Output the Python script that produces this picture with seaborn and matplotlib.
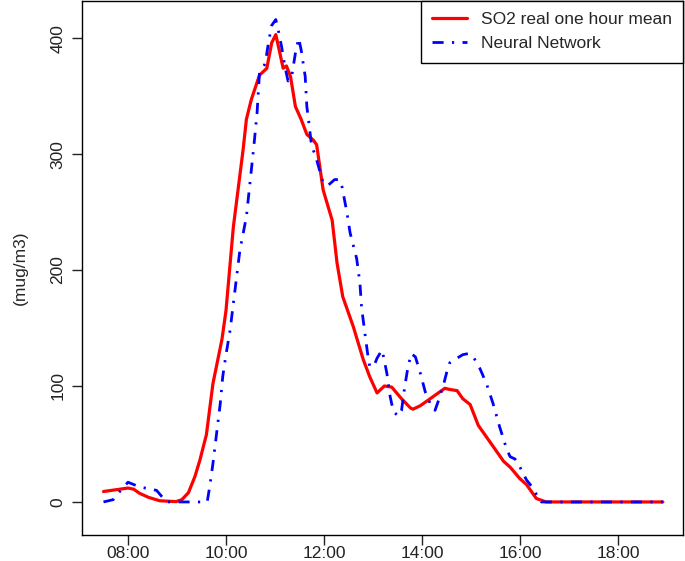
import pandas as pd
import matplotlib
matplotlib.use("Agg")
import matplotlib.pyplot as plt
import matplotlib.dates as mdates
import seaborn as sns

# --- data ---
real_times = [
    "07:30", "08:00", "08:07", "08:14", "08:25", "08:39", "08:59", "09:06",
    "09:14", "09:22", "09:28", "09:36", "09:44", "09:55", "10:00", "10:09",
    "10:21", "10:25", "10:31", "10:41", "10:50", "10:56", "11:01", "11:06",
    "11:10", "11:14", "11:19", "11:25", "11:32", "11:39", "11:47", "11:51",
    "11:59", "12:10", "12:16", "12:23", "12:30", "12:36", "12:48", "12:56",
    "13:05", "13:14", "13:23", "13:35", "13:46", "13:49", "13:58", "14:06",
    "14:14", "14:22", "14:28", "14:34", "14:43", "14:50", "14:59", "15:09",
    "15:23", "15:40", "15:48", "16:00", "16:08", "16:20", "16:32", "17:00",
    "17:30", "18:00", "18:30", "18:55",
]
real_values = [
    9, 12, 11, 7.5, 4, 1, 0.3, 2,
    8, 22, 36, 58, 102, 140, 165, 237,
    304, 330, 347, 368, 374, 396, 403, 387,
    374, 376, 367, 341, 330, 317, 312, 308,
    269, 243, 206, 177, 163, 151, 123, 108,
    94, 100, 99, 89, 81, 80, 83, 87,
    91, 95, 98, 97, 96, 89, 84, 66,
    52, 35, 30, 20, 15, 3, 0, 0,
    0, 0, 0, 0,
]

nn_times = [
    "07:30", "07:42", "07:48", "08:00", "08:14", "08:35", "08:47", "09:08",
    "09:37", "09:40", "09:44", "09:49", "09:53", "09:56", "10:00", "10:05",
    "10:17", "10:25", "10:34", "10:38", "10:41", "10:48", "10:52", "10:56",
    "11:01", "11:04", "11:08", "11:12", "11:16", "11:20", "11:25", "11:29",
    "11:32", "11:37", "11:39", "11:41", "11:45", "11:49", "11:59", "12:05",
    "12:13", "12:19", "12:22", "12:28", "12:32", "12:40", "12:44", "12:46",
    "12:50", "12:54", "12:56", "13:01", "13:05", "13:11", "13:13", "13:17",
    "13:21", "13:25", "13:31", "13:35", "13:39", "13:43", "13:47", "13:52",
    "13:58", "14:04", "14:10", "14:16", "14:20", "14:26", "14:30", "14:34",
    "14:43", "14:50", "14:57", "15:03", "15:11", "15:19", "15:27", "15:35",
    "15:44", "15:48", "15:54", "16:00", "16:08", "16:16", "16:22", "16:26",
    "17:00", "17:30", "18:00", "18:30", "18:55",
]
nn_values = [
    0, 2, 7.5, 17, 13, 10, 0, 0,
    0, 13, 33, 62, 85, 108, 127, 148,
    217, 246, 306, 335, 370, 378, 396, 411,
    416, 407, 393, 376, 363, 365, 387, 400,
    390, 367, 341, 330, 306, 300, 275, 273,
    278, 278, 272, 250, 232, 210, 189, 168,
    146, 125, 117, 117, 124, 131, 125, 111,
    91, 78, 74, 79, 100, 117, 128, 125,
    111, 95, 85, 79, 87, 100, 111, 120,
    124, 127, 128, 125, 115, 102, 85, 65,
    45, 39, 37, 30, 19, 12, 4, 0,
    0, 0, 0, 0, 0,
]

hour_ticks = [8, 10, 12, 14, 16, 18]


def to_dt(times):
    return pd.to_datetime(["2000-01-01 " + t for t in times])


def main():
    sns.set_style("ticks")
    plt.rcParams["font.family"] = ["Liberation Sans", "DejaVu Sans"]

    fig = plt.figure(figsize=(6.85, 5.61), dpi=100)
    ax = fig.add_axes([82 / 685, 26 / 561, 601 / 685, 534 / 561])

    real = pd.DataFrame({"time": to_dt(real_times), "value": real_values})
    nn = pd.DataFrame({"time": to_dt(nn_times), "value": nn_values})

    sns.lineplot(data=real, x="time", y="value", ax=ax, color="red",
                 linewidth=2.3, label="SO2 real one hour mean")
    sns.lineplot(data=nn, x="time", y="value", ax=ax, color="blue",
                 linewidth=2.0, label="Neural Network")
    ax.lines[-1].set_dashes((4, 3, 0.8, 3))

    ax.set_xlim(pd.Timestamp("2000-01-01 07:03:40"),
                pd.Timestamp("2000-01-01 19:19:40"))
    ax.set_ylim(-28.5, 432)

    ax.xaxis.set_major_locator(mdates.HourLocator(byhour=hour_ticks))
    ax.xaxis.set_major_formatter(mdates.DateFormatter("%H:%M"))
    ax.set_yticks([0, 100, 200, 300, 400])
    ax.tick_params(axis="both", direction="out", length=7, width=1.0,
                   labelsize=12.5, colors="#222222")
    ax.tick_params(axis="x", pad=1)
    ax.tick_params(axis="y", pad=5)
    plt.setp(ax.get_yticklabels(), rotation=90, va="center")

    ax.set_xlabel("")
    ax.set_ylabel("(mug/m3)", fontsize=12.5, labelpad=16)

    for side in ["left", "right", "top", "bottom"]:
        ax.spines[side].set_visible(True)
        ax.spines[side].set_color("black")
        ax.spines[side].set_linewidth(1.0)

    leg = ax.legend(loc="upper right", bbox_to_anchor=(1.0, 1.0),
                    borderaxespad=0, fontsize=12.5, frameon=True,
                    fancybox=False, edgecolor="black", framealpha=1,
                    handlelength=2.0, handletextpad=0.8, labelspacing=0.5,
                    borderpad=0.65)
    leg.get_frame().set_linewidth(1.0)

    fig.savefig("out.png", dpi=100)
    plt.close(fig)


if __name__ == "__main__":
    main()
